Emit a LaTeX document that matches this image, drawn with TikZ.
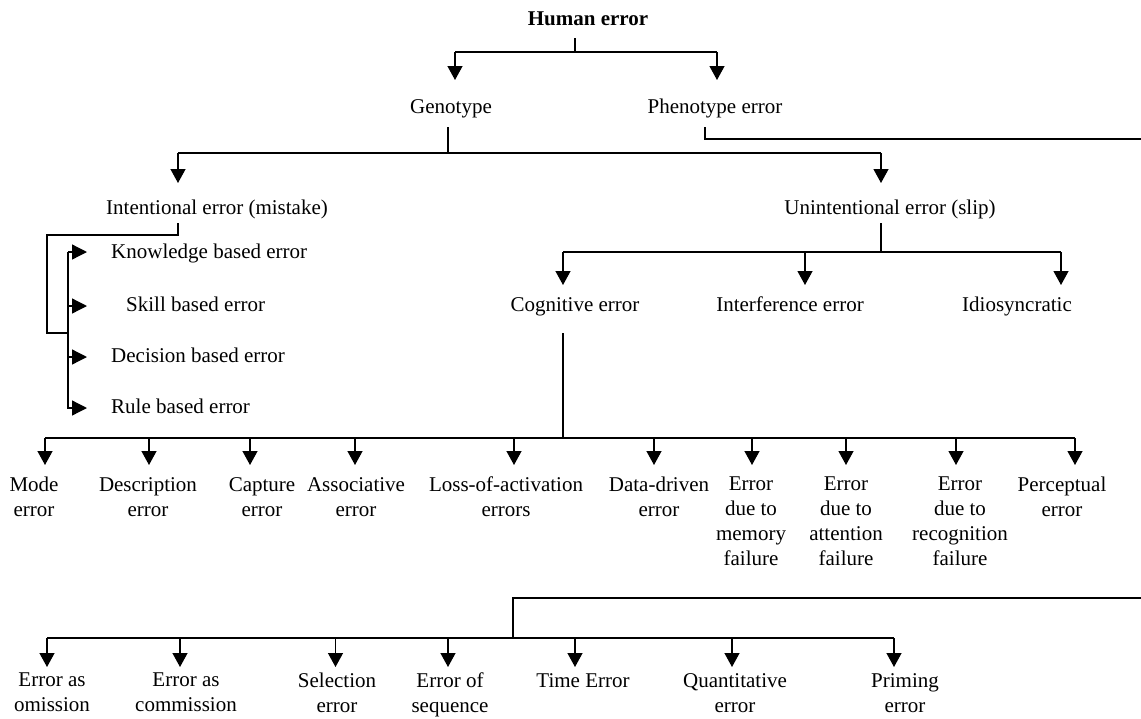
\documentclass[tikz,border=0pt]{standalone}
\usepackage{fontspec}
\setmainfont{Liberation Serif}
\usetikzlibrary{arrows.meta}
\begin{document}
\begin{tikzpicture}[x=1pt,y=-1pt,
  lbl/.style={font=\fontsize{21}{25}\selectfont, inner sep=0pt, text height=14.5pt, text depth=4.5pt},
  mlbl/.style={font=\fontsize{21}{25}\selectfont, inner sep=0pt, align=center, anchor=north},
  ln/.style={line width=1.3pt},
  bar/.style={line width=1.8pt},
  arr/.style={line width=1.3pt, -{Triangle[length=14pt,width=15pt]}},
  sarr/.style={line width=1.3pt, -{Triangle[length=15pt,width=15pt]}},
]
\useasboundingbox (0,0) rectangle (1141,718);

% ---- nodes
\node[lbl,font=\fontsize{21}{25}\selectfont\bfseries] (human) at (588,20) {Human error};
\node[lbl] (geno) at (451,108) {Genotype};
\node[lbl] (pheno) at (715,108) {Phenotype error};
\node[lbl] (intent) at (217,209) {Intentional error (mistake)};
\node[lbl] (unint) at (890,209) {Unintentional error (slip)};

\node[lbl,anchor=west] (know) at (111,253) {Knowledge based error};
\node[lbl,anchor=west] (skill) at (126,306) {Skill based error};
\node[lbl,anchor=west] (decis) at (111,357) {Decision based error};
\node[lbl,anchor=west] (rule) at (111,408) {Rule based error};

\node[lbl] (cog) at (575,306) {Cognitive error};
\node[lbl] (interf) at (790,306) {Interference error};
\node[lbl] (idio) at (1017,306) {Idiosyncratic};

\node[mlbl] (mode) at (34,477) {Mode\\error};
\node[mlbl] (desc) at (148,477) {Description\\error};
\node[mlbl] (capt) at (262,477) {Capture\\error};
\node[mlbl] (assoc) at (356,477) {Associative\\error};
\node[mlbl] (loss) at (506,477) {Loss-of-activation\\errors};
\node[mlbl] (data) at (659,477) {Data-driven\\error};
\node[mlbl] (mem) at (751,477) {Error\\due to\\memory\\failure};
\node[mlbl] (att) at (846,477) {Error\\due to\\attention\\failure};
\node[mlbl] (rec) at (960,477) {Error\\due to\\recognition\\failure};
\node[mlbl] (perc) at (1062,477) {Perceptual\\error};

\node[mlbl] (omis) at (52,673) {Error as\\omission};
\node[mlbl] (comm) at (186,673) {Error as\\commission};
\node[mlbl] (sel) at (337,673) {Selection\\error};
\node[mlbl] (seq) at (450,673) {Error of\\sequence};
\node[mlbl] (time) at (583,673) {Time Error};
\node[mlbl] (quant) at (735,673) {Quantitative\\error};
\node[mlbl] (prim) at (905,673) {Priming\\error};

% ---- connectors
% Human error
\draw[ln] (575,38) coordinate (h0) -- (575,52) coordinate (hj);
\draw[bar] (455,52) -- (717,52);
\draw[arr] (455,52) -- (455,80);
\draw[arr] (717,52) -- (717,80);

% Genotype
\draw[ln] (448,127) coordinate (g0) -- (448,153) coordinate (gj);
\draw[bar] (178,153) -- (881,153);
\draw[arr] (178,153) -- (178,183);
\draw[arr] (881,153) -- (881,183);

% Phenotype (runs off the right edge and back)
\draw[ln] (705,127) coordinate (p0) -- (705,139) -- (1150,139) -- (1150,598) -- (513,598) -- (513,638) coordinate (pj);
\draw[bar] (1141,598) -- (513,598);
\draw[bar] (47,638) -- (894,638);
\foreach \x in {47,180,335.5,448,575,732,894}
  \draw[arr] (\x,638) -- (\x,667);

% Intentional
\draw[ln] (178,223) coordinate (i0) -- (178,235) -- (47,235) -- (47,333) -- (68,333);
\draw[ln] (68,252) -- (68,409);
\foreach \y in {252,306,357,408}
  \draw[sarr] (68,\y) -- (87,\y);

% Unintentional
\draw[ln] (881,223) coordinate (u0) -- (881,252) coordinate (uj);
\draw[bar] (563,252) -- (1061,252);
\foreach \x in {563,805,1061}
  \draw[arr] (\x,252) -- (\x,285);

% Cognitive
\draw[ln] (563,333) coordinate (c0) -- (563,438) coordinate (cj);
\draw[bar] (45,438) -- (1075,438);
\foreach \x in {45,149,250,355,514,654,752,846,956,1075}
  \draw[arr] (\x,438) -- (\x,465);
\end{tikzpicture}
\end{document}
